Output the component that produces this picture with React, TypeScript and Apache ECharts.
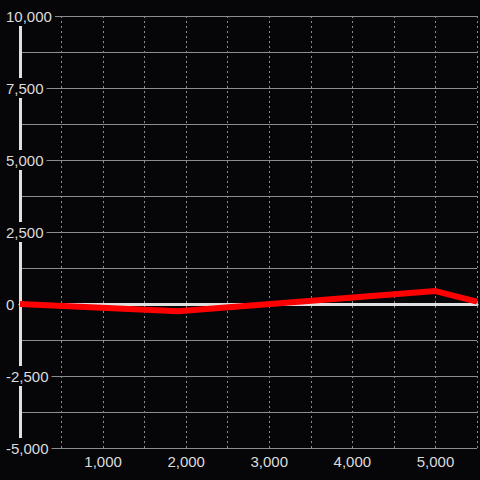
import React, { useEffect, useRef } from "react";
import * as echarts from "echarts";

const xValues = [0, 1900, 5000, 5500];
const yValues = [0, -250, 450, 80];
const yMin = -5000;
const yMax = 10000;
const xMin = 0;
const xMax = 5500;

const BG = "#060609";
const TEXT = "#dcdcdc";

const fmt = (v: number) => v.toLocaleString("en-US");

export default function App() {
  const ref = useRef<HTMLDivElement>(null);
  useEffect(() => {
    if (!ref.current) return;
    const chart = echarts.init(ref.current, undefined, { renderer: "svg" });
    chart.setOption({
      animation: false,
      backgroundColor: BG,
      grid: { left: 20, top: 16, right: -2, bottom: 32, containLabel: false },
      xAxis: {
        type: "value",
        min: xMin,
        max: xMax,
        interval: 500,
        z: 1,
        axisLine: { show: true, onZero: true, onZeroAxisIndex: 0, lineStyle: { color: "#e0e0e0", width: 3 } },
        axisTick: { show: false },
        splitLine: { show: true, lineStyle: { color: "#8c8c8c", width: 1, type: [2, 3] } },
        axisLabel: {
          color: TEXT,
          fontFamily: "Liberation Sans",
          fontSize: 15,
          margin: 6,
          formatter: (v: number) => (v > 0 && v % 1000 === 0 ? fmt(v) : ""),
        },
      },
      yAxis: [
        {
          type: "value",
          min: yMin,
          max: yMax,
          interval: 2500,
          position: "left",
          z: 1,
          axisLine: { show: true, onZero: false, lineStyle: { color: "#e0e0e0", width: 3 } },
          axisTick: { show: false },
          splitLine: { show: false },
          axisLabel: {
            color: TEXT,
            fontFamily: "Liberation Sans",
            fontSize: 15,
            align: "left",
            margin: 14,
            backgroundColor: BG,
            padding: [2, 3, 2, 0],
            lineHeight: 16,
            formatter: (v: number) => fmt(v),
          },
        },
        {
          type: "value",
          min: yMin,
          max: yMax,
          interval: 1250,
          position: "left",
          z: 0,
          axisLine: { show: false },
          axisTick: { show: false },
          axisLabel: { show: false },
          splitLine: { show: true, lineStyle: { color: "#8c8c8c", width: 1 } },
        },
      ],
      series: [
        {
          type: "line",
          z: 3,
          yAxisIndex: 0,
          data: xValues.map((x, i) => [x, yValues[i]]),
          showSymbol: false,
          symbol: "none",
          clip: false,
          lineStyle: { color: "#ff0000", width: 6 },
        },
      ],
    });
    return () => chart.dispose();
  }, []);
  return (
    <div
      ref={ref}
      style={{ position: "fixed", left: 0, top: 0, width: 480, height: 480 }}
    />
  );
}
